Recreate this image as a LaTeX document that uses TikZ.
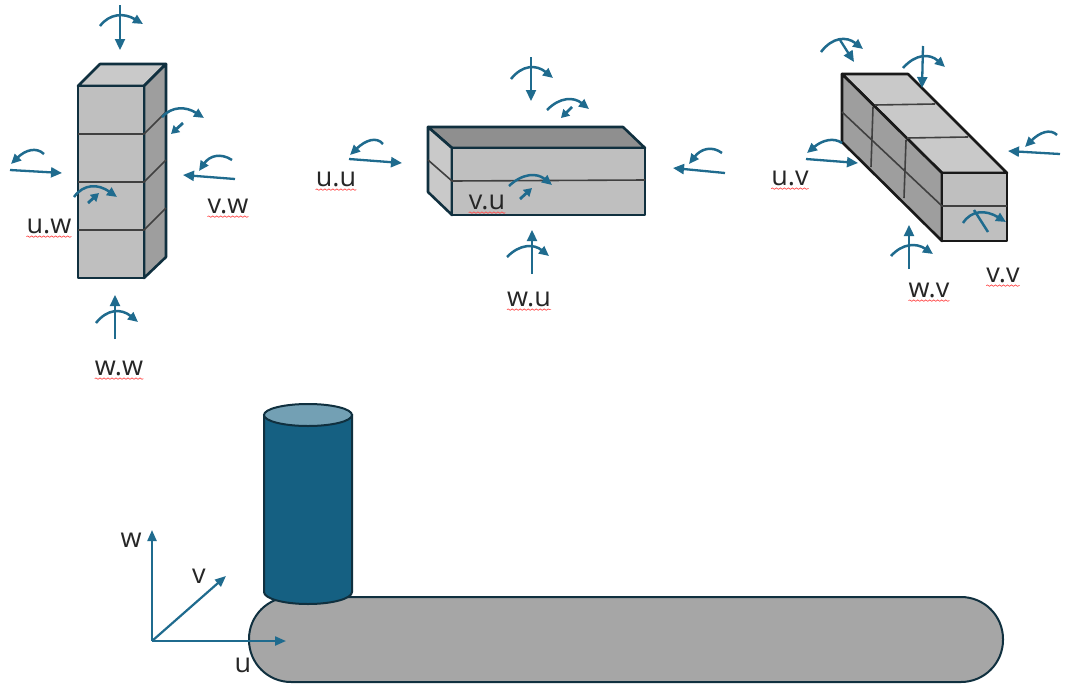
\documentclass[tikz,border=0pt]{standalone}
\usepackage{fontspec}
\setmainfont{Open Sans}
\usetikzlibrary{arrows.meta,decorations.pathmorphing,calc}
\definecolor{arrowblue}{HTML}{1F6B8E}
\definecolor{edgedark}{HTML}{10303F}
\definecolor{cylblue}{HTML}{156082}
\definecolor{cyltop}{HTML}{73A0B4}
\definecolor{facelight}{HTML}{BFBFBF}
\definecolor{facetop}{HTML}{C9C9C9}
\definecolor{facedark}{HTML}{9E9E9E}
\definecolor{flattop}{HTML}{8F8F8F}
\definecolor{capsule}{HTML}{A6A6A6}
\tikzset{
  x=1pt,y=-1pt,
  straight/.style={draw=arrowblue,line width=2.3pt,-{Triangle[length=11pt,width=10pt]}},
  turn/.style={draw=arrowblue,line width=2.5pt,-{Triangle[length=10pt,width=9pt]}},
  small/.style={draw=arrowblue,line width=2.8pt,-{Triangle[length=8pt,width=9pt]}},
  face/.style={draw=edgedark,line width=2.6pt,line join=round},
  blackface/.style={draw=black!90,line width=2.6pt,line join=round},
  divide/.style={draw=black!75,line width=1.6pt},
  axis/.style={draw=arrowblue,line width=2.2pt,-{Triangle[length=11pt,width=9pt]}},
  lab/.style={font=\fontsize{27}{29}\selectfont,text=black!85,inner sep=0pt},
  squig/.style={draw=red!70,line width=.7pt,decorate,decoration={snake,amplitude=.7pt,segment length=4pt}}
}
\newcommand{\turnarc}[3]{\draw[turn] #1 .. controls ($1.3333*#2-0.3333*#3$) and ($1.3333*#2-0.3333*#1$) .. #3;}
\newcommand{\marked}[3]{%
  \node[lab] (#1) at #2 {#3};
  \draw[squig] ([yshift=-3pt]#1.south west) -- ([yshift=-3pt]#1.south east);}
\begin{document}
\begin{tikzpicture}
\useasboundingbox (0,0) rectangle (1068,691);
\fill[white] (0,0) rectangle (1068,691);

% --- upright box
\draw[face,fill=facetop] (78,86) -- (100,64) -- (166,64) -- (144,86) -- cycle;
\draw[face,fill=facedark] (144,86) -- (166,64) -- (166,257) -- (144,278) -- cycle;
\draw[face,fill=facelight] (78,86) rectangle (144,278);
\foreach \yy in {134,182,230}{
  \draw[divide] (78,\yy) -- (144,\yy) -- (166,\yy-22);
}
\draw[straight] (120,5) -- (120,50);
\turnarc{(100,26)}{(118,16)}{(143,24)}
\draw[straight] (115,339) -- (115,295);
\turnarc{(96,323)}{(115,312)}{(138,322)}
\draw[straight] (10,170) -- (62,173);
\turnarc{(44,154)}{(30,151)}{(11,164)}
\draw[straight] (235,179) -- (183,175);
\turnarc{(232,160)}{(215,157)}{(199,171)}
\turnarc{(162,117)}{(180,109)}{(204,118)}
\draw[small] (183,123) -- (171,134);
\turnarc{(74,197)}{(92,187)}{(117,197)}
\draw[small] (88,203) -- (99,193);
\marked{uw}{(49,226)}{u.w}
\marked{vw}{(228,206)}{v.w}
\marked{ww}{(119,368)}{w.w}

% --- flat box
\draw[face,fill=flattop] (428,127) -- (623,127) -- (645,148) -- (452,148) -- cycle;
\draw[face,fill=facetop] (428,127) -- (452,148) -- (452,215) -- (428,192) -- cycle;
\draw[face,fill=facelight] (452,148) rectangle (645,215);
\draw[divide] (428,160) -- (452,181) -- (645,180);
\draw[straight] (531,57) -- (531,101);
\turnarc{(511,79)}{(530,68)}{(553,78)}
\turnarc{(547,110)}{(567,100)}{(589,109)}
\draw[small] (572,107) -- (561,118);
\draw[straight] (532,274) -- (532,230);
\turnarc{(507,257)}{(527,247)}{(549,256)}
\draw[straight] (349,159) -- (402,163);
\turnarc{(383,144)}{(370,141)}{(350,155)}
\draw[straight] (725,173) -- (673,168);
\turnarc{(722,153)}{(706,150)}{(689,164)}
\turnarc{(509,186)}{(530,176)}{(552,185)}
\draw[small] (520,199) -- (532,188);
\marked{uu}{(336,179)}{u.u}
\marked{vu}{(487,202)}{v.u}
\marked{wu}{(529,299)}{w.u}

% --- long box
\draw[blackface,fill=facetop] (842,74) -- (908,74) -- (1007,173) -- (942,173) -- cycle;
\draw[blackface,fill=facedark] (842,74) -- (942,173) -- (942,241) -- (842,142) -- cycle;
\draw[blackface,fill=facelight] (942,173) rectangle (1007,241);
\draw[divide] (875,105) -- (935,104);
\draw[divide] (907,138) -- (968,137);
\draw[divide] (873,107) -- (871,167);
\draw[divide] (906,140) -- (904,198);
\draw[divide] (842,112) -- (942,206) -- (1007,206);
\turnarc{(821,52)}{(840,40)}{(863,49)}
\draw[straight] (840,40) -- (854,62);
\draw[straight] (923,46) -- (922,88);
\turnarc{(903,68)}{(923,57)}{(945,67)}
\draw[straight] (1060,154) -- (1008,151);
\turnarc{(1057,135)}{(1044,133)}{(1025,147)}
\draw[straight] (806,159) -- (858,163);
\turnarc{(842,143)}{(827,141)}{(807,153)}
\draw[straight] (909,269) -- (909,225);
\turnarc{(891,256)}{(910,246)}{(933,254)}
\turnarc{(963,223)}{(980,213)}{(1006,222)}
\draw[arrowblue,line width=2.5pt] (988,232) -- (974,210);
\marked{uv}{(790,178)}{u.v}
\marked{vv}{(1003,275)}{v.v}
\marked{wv}{(929,290)}{w.v}

% --- lower assembly
\draw[edgedark,line width=2pt,fill=capsule,rounded corners=42pt] (249,597) rectangle (1003,682);
\draw[edgedark,line width=2pt,fill=cylblue] (264,415) -- (264,592) arc[start angle=180,end angle=360,x radius=44,y radius=-12] -- (352,415) -- cycle;
\draw[edgedark,line width=2pt,fill=cyltop] (308,415) ellipse[x radius=44,y radius=11];
\coordinate (origin) at (152,641);
\coordinate (wend) at (152,530);
\coordinate (vend) at (226,576);
\coordinate (uend) at (286,641);
\draw[axis] (origin) -- (wend);
\draw[axis] (origin) -- (vend);
\draw[axis] (origin) -- (uend);
\node[lab] (w) at (131,540) {w};
\node[lab] (v) at (199,576) {v};
\node[lab] (u) at (243,665) {u};
\end{tikzpicture}
\end{document}
